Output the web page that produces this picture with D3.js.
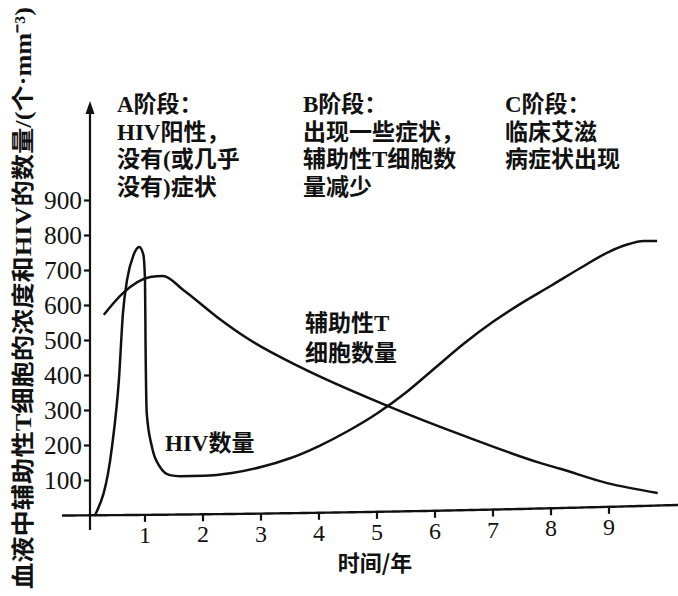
<!DOCTYPE html>
<html>
<head>
<meta charset="utf-8">
<script src="https://cdn.jsdelivr.net/npm/d3@7"></script>
<style>
  body { margin: 0; background: #fff; }
  text { fill: #111; }
</style>
</head>
<body>
<svg width="678" height="596"></svg>
<script>
// years on the x axis
const xTicks = [1, 2, 3, 4, 5, 6, 7, 8, 9];
const yTicks = [100, 200, 300, 400, 500, 600, 700, 800, 900];

// HIV count
const hivYears  = [0.14, 0.43, 0.55, 0.62, 0.69, 0.8, 0.9, 0.97, 1.0, 1.01, 1.03, 1.12, 1.26, 1.43, 1.6, 2.0, 2.5, 3.0, 3.5, 4.0, 4.5, 5.0, 5.5, 6.0, 6.5, 7.0, 7.5, 8.0, 8.5, 9.0, 9.3, 9.6, 9.83];
const hivValues = [0, 194, 386, 577, 671, 742, 766, 745, 671, 480, 291, 194, 137, 114, 111, 112, 120, 137, 162, 197, 240, 290, 350, 420, 490, 552, 606, 655, 705, 752, 772, 783, 783];

// helper T cell count
const tYears  = [0.29, 0.62, 1.09, 1.31, 1.66, 2.24, 2.81, 3.67, 5.19, 6.55, 7.81, 8.16, 8.97, 9.84];
const tValues = [572, 634, 680, 683, 643, 566, 500, 423, 311, 223, 149, 132, 91, 63];

const stageA = ['A阶段：', 'HIV阳性，', '没有(或几乎', '没有)症状'];
const stageB = ['B阶段：', '出现一些症状，', '辅助性T细胞数', '量减少'];
const stageC = ['C阶段：', '临床艾滋', '病症状出现'];

const font = '"Liberation Serif", "Noto Sans CJK SC", serif';
const cjk = '"Noto Sans CJK SC", sans-serif';

let svg = d3.select('svg');

let x = d3.scaleLinear().domain([0, 10]).range([87, 667]);
let y = d3.scaleLinear().domain([0, 1000]).range([515, 165]);

// the printed x axis bends up a little towards the right
let axisLift = (px) => 515.5 - 1.8e-5 * Math.pow(Math.max(0, px - 62), 2) - 0.006 * (px - 62);

// axes
svg.append('path')
  .attr('d', d3.line().curve(d3.curveBasis)(d3.range(62, 679, 8).map((px) => [px, axisLift(px)])))
  .attr('fill', 'none').attr('stroke', '#111').attr('stroke-width', 2.4);

svg.append('line')
  .attr('x1', 90).attr('x2', 90)
  .attr('y1', 530).attr('y2', 110)
  .attr('stroke', '#111').attr('stroke-width', 2.2);

svg.append('path')
  .attr('d', 'M90,101 L85.5,114 L94.5,114 Z')
  .attr('fill', '#111');

let xAxis = svg.append('g')
  .attr('transform', `translate(0,${y(0)})`)
  .call(d3.axisBottom(x).tickValues(xTicks).tickSize(7).tickPadding(4).tickFormat(d3.format('d')));
xAxis.select('.domain').remove();
xAxis.selectAll('.tick')
  .attr('transform', (d) => `translate(${x(d)},${axisLift(x(d)) - 515})`);
xAxis.selectAll('line').attr('stroke', '#111').attr('stroke-width', 2.2);
xAxis.selectAll('text')
  .attr('font-family', font).attr('font-size', 24).attr('fill', '#111');

let yAxis = svg.append('g')
  .attr('transform', 'translate(90,0)')
  .call(d3.axisLeft(y).tickValues(yTicks).tickSize(6).tickPadding(2));
yAxis.select('.domain').remove();
yAxis.selectAll('line').attr('stroke', '#111').attr('stroke-width', 2.2);
yAxis.selectAll('text')
  .attr('font-family', font).attr('font-size', 25).attr('fill', '#111')
  .attr('textLength', 38).attr('lengthAdjust', 'spacingAndGlyphs');

// curves
let line = d3.line()
  .x((d) => x(d[0]))
  .y((d) => y(d[1]))
  .curve(d3.curveMonotoneX);

svg.append('path')
  .datum(d3.zip(hivYears, hivValues))
  .attr('d', line)
  .attr('fill', 'none').attr('stroke', '#111').attr('stroke-width', 2.5);

svg.append('path')
  .datum(d3.zip(tYears, tValues))
  .attr('d', line)
  .attr('fill', 'none').attr('stroke', '#111').attr('stroke-width', 2.5);

// stage notes
function block(lines, left, top, gap) {
  svg.append('text')
    .attr('font-family', font).attr('font-size', 23).attr('font-weight', 700)
    .selectAll('tspan')
    .data(lines)
    .join('tspan')
    .attr('x', left)
    .attr('y', (d, i) => top + i * gap)
    .text((d) => d);
}
block(stageA, 117, 112, 27.5);
block(stageB, 303, 112, 27.5);
block(stageC, 505, 112, 27.5);

block(['辅助性T', '细胞数量'], 305, 331, 30);
block(['HIV数量'], 165, 451, 0);

// axis titles
svg.append('text')
  .attr('x', 375).attr('y', 571)
  .attr('text-anchor', 'middle')
  .attr('font-family', cjk).attr('font-size', 22).attr('font-weight', 700)
  .text('时间/年');

svg.append('text')
  .attr('transform', 'translate(31,298) rotate(-90)')
  .attr('text-anchor', 'middle')
  .attr('font-family', font).attr('font-size', 23).attr('font-weight', 700)
  .attr('textLength', 582).attr('lengthAdjust', 'spacingAndGlyphs')
  .text('血液中辅助性T细胞的浓度和HIV的数量/(个·mm⁻³)');
</script>
</body>
</html>
